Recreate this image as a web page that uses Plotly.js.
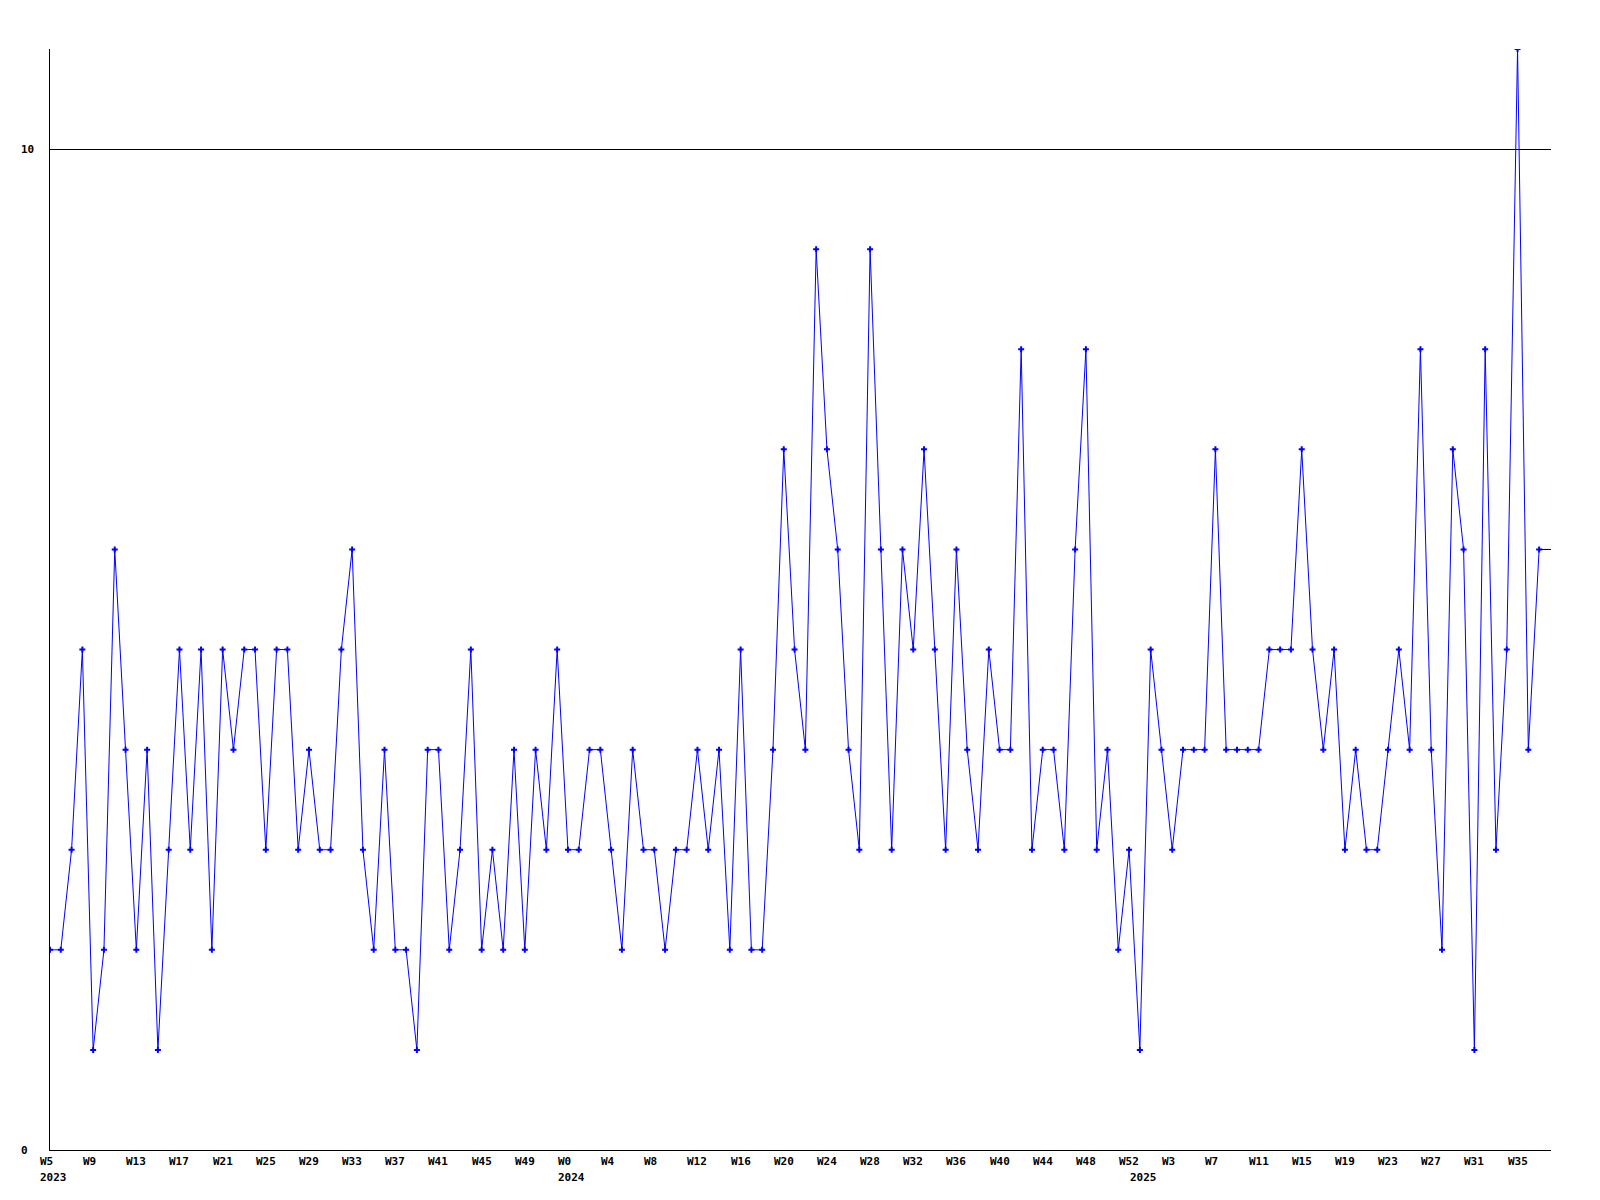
<!DOCTYPE html>
<html>
<head>
<meta charset="utf-8">
<script src="https://cdn.plot.ly/plotly-3.0.1.min.js"></script>
<style>html,body{margin:0;padding:0;background:#fff;}#chart{width:1600px;height:1200px;}</style>
</head>
<body>
<div id="chart"></div>
<script>
// Week segments: [year, first week, last week]
const yearSegments = [
  [2023, 5, 52],
  [2024, 0, 52],
  [2025, 0, 37]
];

// Weekly values, in order
const values2023 = [2,2,3,5,1,2,6,4,2,4,1,3,5,3,5,2,5,4,5,5,3,5,5,3,4,3,3,5,6,3,2,4,2,2,1,4,4,2,3,5,2,3,2,4,2,4,3,5];
const values2024 = [3,3,4,4,3,2,4,3,3,2,3,3,4,3,4,2,5,2,2,4,7,5,4,9,7,6,4,3,9,6,3,6,5,7,5,3,6,4,3,5,4,4,8,3,4,4,3,6,8,3,4,2,3];
const values2025 = [1,5,4,3,4,4,4,7,4,4,4,4,5,5,5,7,5,4,5,3,4,3,3,4,5,4,8,4,2,7,6,1,8,3,5,11,4,6];

const yTickVals = [0, 10];
const labelEvery = 4;

// Build category list from segments
const weekNums = [], yearOf = [];
yearSegments.forEach(([yr, w0, w1]) => { for (let w = w0; w <= w1; w++) { weekNums.push(w); yearOf.push(yr); } });
const values = values2023.concat(values2024, values2025);
const idx = values.map((_, i) => i);

const xEnd = values.length - 1 + 1.1;

const font = {family: 'DejaVu Sans Mono, monospace', size: 11, color: '#000', weight: 'bold'};

const annotations = [];
for (let i = 0; i < weekNums.length; i += labelEvery) {
  annotations.push({x: i, y: 0, xref: 'x', yref: 'y', text: 'W' + weekNums[i], showarrow: false,
    xanchor: 'left', yanchor: 'top', xshift: -11, yshift: -4, font: font, borderpad: 0});
}
yearOf.forEach((yr, i) => {
  if (i === 0 || yearOf[i - 1] !== yr) {
    annotations.push({x: i, y: 0, xref: 'x', yref: 'y', text: String(yr), showarrow: false,
      xanchor: 'left', yanchor: 'top', xshift: -11, yshift: -20, font: font, borderpad: 0});
  }
});
yTickVals.forEach(v => {
  annotations.push({x: 0, y: v, xref: 'paper', yref: 'y', text: String(v), showarrow: false,
    xanchor: 'left', yanchor: 'middle', xshift: -30, font: font, borderpad: 0});
});

const traces = [
  {x: idx, y: values, type: 'scatter', mode: 'lines+markers',
   line: {color: '#0000ff', width: 1},
   marker: {color: '#0000ff', symbol: 'cross', size: 5},
   hoverinfo: 'x+y'},
  {x: [values.length - 1, xEnd], y: [values[values.length - 1], values[values.length - 1]],
   type: 'scatter', mode: 'lines', line: {color: '#000', width: 1}, hoverinfo: 'skip'}
];

const layout = {
  width: 1600, height: 1200,
  margin: {l: 50, r: 49, t: 49, b: 50},
  paper_bgcolor: '#fff', plot_bgcolor: '#fff',
  showlegend: false,
  font: font,
  xaxis: {range: [0, xEnd], showticklabels: false, showgrid: false, zeroline: false,
    showline: true, linecolor: '#000', linewidth: 1, ticks: ''},
  yaxis: {range: [0, 11], tickvals: yTickVals, showticklabels: false, showgrid: true, gridcolor: '#000', gridwidth: 1,
    zeroline: false, showline: true, linecolor: '#000', linewidth: 1, ticks: ''},
  annotations: annotations
};

Plotly.newPlot('chart', traces, layout, {displayModeBar: false, staticPlot: true});
</script>
</body>
</html>
